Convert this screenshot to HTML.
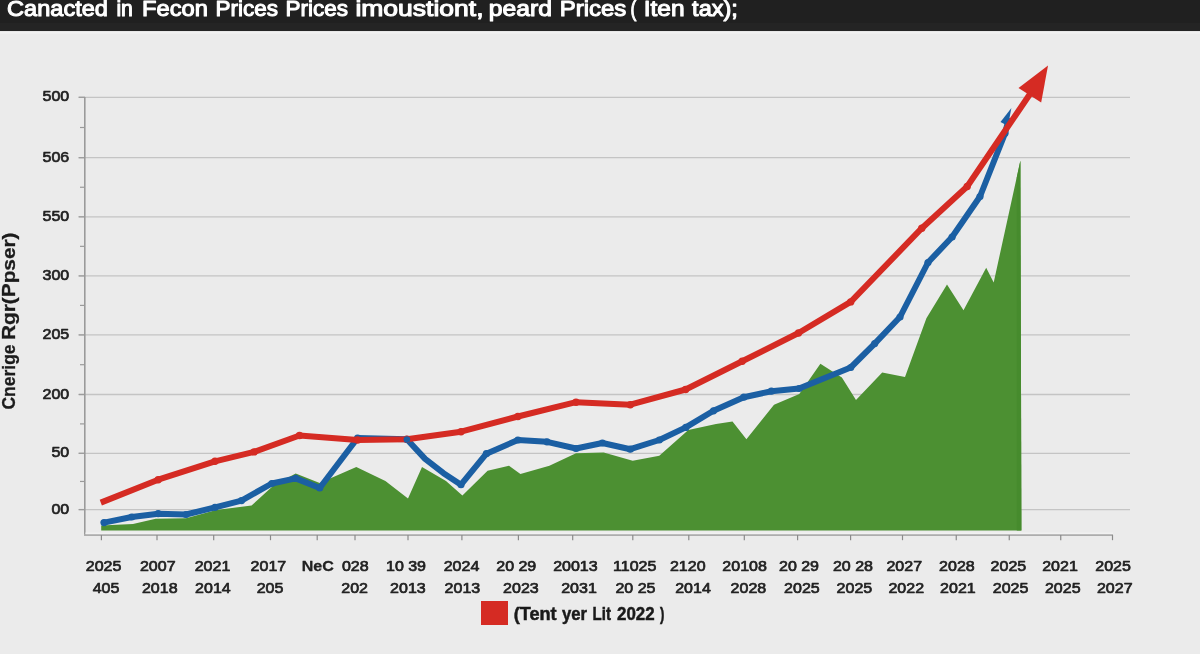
<!DOCTYPE html>
<html><head><meta charset="utf-8"><title>Chart</title>
<style>
html,body{margin:0;padding:0;}
body{width:1200px;height:654px;overflow:hidden;background:#ebebeb;position:relative;font-family:"Liberation Sans",sans-serif;}
#hdr{position:absolute;left:0;top:0;width:1200px;height:31px;background:#232323;overflow:hidden;}
#hdr span{position:absolute;left:7px;top:-12px;color:#fff;font-size:25px;font-weight:bold;white-space:nowrap;line-height:34px;letter-spacing:-0.2px}
</style></head><body>

<svg width="1200" height="654" viewBox="0 0 1200 654" style="position:absolute;left:0;top:0"><rect x="0" y="0" width="1200" height="31.2" fill="#242424"/><rect x="0" y="0" width="1200" height="23" fill="#202020"/><rect x="0" y="31.2" width="1200" height="2.6" fill="#f1f1f1"/><g font-family="'Liberation Sans', sans-serif" font-size="22.6" fill="#fff" stroke="#fff" stroke-width="1.1" stroke-linejoin="round"><text x="7.1000000000000005" y="15.5" textLength="100.8" lengthAdjust="spacingAndGlyphs">Canacted</text><text x="116.4" y="15.5" textLength="16.5" lengthAdjust="spacingAndGlyphs">in</text><text x="142.1" y="15.5" textLength="65.8" lengthAdjust="spacingAndGlyphs">Fecon</text><text x="215.4" y="15.5" textLength="62.5" lengthAdjust="spacingAndGlyphs">Prices</text><text x="285.4" y="15.5" textLength="62.5" lengthAdjust="spacingAndGlyphs">Prices</text><text x="355.4" y="15.5" textLength="128.2" lengthAdjust="spacingAndGlyphs">imoustiont,</text><text x="488.7" y="15.5" textLength="63.2" lengthAdjust="spacingAndGlyphs">peard</text><text x="559.6999999999999" y="15.5" textLength="66.6" lengthAdjust="spacingAndGlyphs">Prices</text><text x="630.4" y="15.5" textLength="5.9" lengthAdjust="spacingAndGlyphs">(</text><text x="643.6999999999999" y="15.5" textLength="40.9" lengthAdjust="spacingAndGlyphs">Iten</text><text x="692.1" y="15.5" textLength="45.8" lengthAdjust="spacingAndGlyphs">tax);</text></g><line x1="79" y1="97.3" x2="1130" y2="97.3" stroke="#c4c4c4" stroke-width="1.3"/><line x1="78.5" y1="97.3" x2="85" y2="97.3" stroke="#9c9c9c" stroke-width="1.3"/><line x1="79" y1="157.7" x2="1130" y2="157.7" stroke="#c4c4c4" stroke-width="1.3"/><line x1="78.5" y1="157.7" x2="85" y2="157.7" stroke="#9c9c9c" stroke-width="1.3"/><line x1="79" y1="216.8" x2="1130" y2="216.8" stroke="#c4c4c4" stroke-width="1.3"/><line x1="78.5" y1="216.8" x2="85" y2="216.8" stroke="#9c9c9c" stroke-width="1.3"/><line x1="79" y1="275.9" x2="1130" y2="275.9" stroke="#c4c4c4" stroke-width="1.3"/><line x1="78.5" y1="275.9" x2="85" y2="275.9" stroke="#9c9c9c" stroke-width="1.3"/><line x1="79" y1="334.9" x2="1130" y2="334.9" stroke="#c4c4c4" stroke-width="1.3"/><line x1="78.5" y1="334.9" x2="85" y2="334.9" stroke="#9c9c9c" stroke-width="1.3"/><line x1="79" y1="394.5" x2="1130" y2="394.5" stroke="#c4c4c4" stroke-width="1.3"/><line x1="78.5" y1="394.5" x2="85" y2="394.5" stroke="#9c9c9c" stroke-width="1.3"/><line x1="79" y1="453.3" x2="1130" y2="453.3" stroke="#c4c4c4" stroke-width="1.3"/><line x1="78.5" y1="453.3" x2="85" y2="453.3" stroke="#9c9c9c" stroke-width="1.3"/><line x1="79" y1="509.6" x2="1130" y2="509.6" stroke="#c4c4c4" stroke-width="1.3"/><line x1="78.5" y1="509.6" x2="85" y2="509.6" stroke="#9c9c9c" stroke-width="1.3"/><line x1="80" y1="127.5" x2="85" y2="127.5" stroke="#9a9a9a" stroke-width="1.2"/><line x1="80" y1="187.25" x2="85" y2="187.25" stroke="#9a9a9a" stroke-width="1.2"/><line x1="80" y1="246.35" x2="85" y2="246.35" stroke="#9a9a9a" stroke-width="1.2"/><line x1="80" y1="305.4" x2="85" y2="305.4" stroke="#9a9a9a" stroke-width="1.2"/><line x1="80" y1="364.7" x2="85" y2="364.7" stroke="#9a9a9a" stroke-width="1.2"/><line x1="80" y1="423.9" x2="85" y2="423.9" stroke="#9a9a9a" stroke-width="1.2"/><line x1="80" y1="481.45000000000005" x2="85" y2="481.45000000000005" stroke="#9a9a9a" stroke-width="1.2"/><line x1="84.8" y1="97" x2="84.8" y2="535.9" stroke="#9a9a9a" stroke-width="1.6"/><line x1="85.5" y1="533.2" x2="1113" y2="533.2" stroke="#f1f1f1" stroke-width="1.6"/><line x1="84" y1="535.1" x2="1113" y2="535.1" stroke="#adadad" stroke-width="1.7"/><line x1="101.4" y1="535.1" x2="101.4" y2="540.2" stroke="#8a8a8a" stroke-width="1.2"/><line x1="157" y1="535.1" x2="157" y2="540.2" stroke="#8a8a8a" stroke-width="1.2"/><line x1="213.7" y1="535.1" x2="213.7" y2="540.2" stroke="#8a8a8a" stroke-width="1.2"/><line x1="270.5" y1="535.1" x2="270.5" y2="540.2" stroke="#8a8a8a" stroke-width="1.2"/><line x1="317.2" y1="535.1" x2="317.2" y2="540.2" stroke="#8a8a8a" stroke-width="1.2"/><line x1="355" y1="535.1" x2="355" y2="540.2" stroke="#8a8a8a" stroke-width="1.2"/><line x1="408" y1="535.1" x2="408" y2="540.2" stroke="#8a8a8a" stroke-width="1.2"/><line x1="461.9" y1="535.1" x2="461.9" y2="540.2" stroke="#8a8a8a" stroke-width="1.2"/><line x1="518.4" y1="535.1" x2="518.4" y2="540.2" stroke="#8a8a8a" stroke-width="1.2"/><line x1="572.7" y1="535.1" x2="572.7" y2="540.2" stroke="#8a8a8a" stroke-width="1.2"/><line x1="632.8" y1="535.1" x2="632.8" y2="540.2" stroke="#8a8a8a" stroke-width="1.2"/><line x1="688.8" y1="535.1" x2="688.8" y2="540.2" stroke="#8a8a8a" stroke-width="1.2"/><line x1="744.3" y1="535.1" x2="744.3" y2="540.2" stroke="#8a8a8a" stroke-width="1.2"/><line x1="797.6" y1="535.1" x2="797.6" y2="540.2" stroke="#8a8a8a" stroke-width="1.2"/><line x1="850.6" y1="535.1" x2="850.6" y2="540.2" stroke="#8a8a8a" stroke-width="1.2"/><line x1="902.5" y1="535.1" x2="902.5" y2="540.2" stroke="#8a8a8a" stroke-width="1.2"/><line x1="956.25" y1="535.1" x2="956.25" y2="540.2" stroke="#8a8a8a" stroke-width="1.2"/><line x1="1009.25" y1="535.1" x2="1009.25" y2="540.2" stroke="#8a8a8a" stroke-width="1.2"/><line x1="1060.75" y1="535.1" x2="1060.75" y2="540.2" stroke="#8a8a8a" stroke-width="1.2"/><line x1="1112.5" y1="535.1" x2="1112.5" y2="540.2" stroke="#8a8a8a" stroke-width="1.2"/><polygon points="101.2,530.5 101.2,525.4 133,523.9 155.7,518.8 186,518.3 216.3,510 251.6,505.4 274.3,484.7 295.7,473.4 319.7,483 356.3,467 385.4,481 408,498.6 422,467 446,481 462.4,495.6 487.6,470.8 509,465.8 520.4,473.9 549.4,465.8 576,453.2 603.7,452.4 632.7,460.7 659.3,455.7 688.3,430 716,424 732.5,421.6 746.4,439.3 774,404.7 799.3,393.9 820.4,363.7 841.9,377.6 856,400 882.2,372.6 905,377 926.4,318.3 947,284.5 963.5,310.2 986.2,267.8 993.7,282.5 1020.4,160.4 1021.4,530.5" fill="#4c9032"/><polygon points="1016.8,177.5 1020.4,160.4 1021.4,530.5 1016.8,530.5" fill="#468b2d"/><polyline points="104,522.6 131.7,517 158.2,513.7 186,514.5 215,507.4 241.5,500.6 271.8,483.5 295.7,478.4 319.7,488 357.6,438 406.9,439.3 425.1,458.9 443.5,473.2 461,484.7 486.4,453.7 517.9,440 547,441.8 576,448.5 602.4,443 630.3,449.2 659.3,440 685.8,427.4 713.5,410.8 743.8,397.2 771.4,391.2 799,388.5 850.7,367.5 874.7,343.6 900,317 928,262.5 952.1,237 980,196.5 1005,133.3 1009,118" fill="none" stroke="#1b5fa3" stroke-width="6" stroke-linejoin="round"/><circle cx="104" cy="522.6" r="3.6" fill="#1b5fa3"/><circle cx="131.7" cy="517" r="3.6" fill="#1b5fa3"/><circle cx="158.2" cy="513.7" r="3.6" fill="#1b5fa3"/><circle cx="186" cy="514.5" r="3.6" fill="#1b5fa3"/><circle cx="215" cy="507.4" r="3.6" fill="#1b5fa3"/><circle cx="241.5" cy="500.6" r="3.6" fill="#1b5fa3"/><circle cx="271.8" cy="483.5" r="3.6" fill="#1b5fa3"/><circle cx="295.7" cy="478.4" r="3.6" fill="#1b5fa3"/><circle cx="319.7" cy="488" r="3.6" fill="#1b5fa3"/><circle cx="357.6" cy="438" r="3.6" fill="#1b5fa3"/><circle cx="406.9" cy="439.3" r="3.6" fill="#1b5fa3"/><circle cx="461" cy="484.7" r="3.6" fill="#1b5fa3"/><circle cx="486.4" cy="453.7" r="3.6" fill="#1b5fa3"/><circle cx="517.9" cy="440" r="3.6" fill="#1b5fa3"/><circle cx="547" cy="441.8" r="3.6" fill="#1b5fa3"/><circle cx="576" cy="448.5" r="3.6" fill="#1b5fa3"/><circle cx="602.4" cy="443" r="3.6" fill="#1b5fa3"/><circle cx="630.3" cy="449.2" r="3.6" fill="#1b5fa3"/><circle cx="659.3" cy="440" r="3.6" fill="#1b5fa3"/><circle cx="685.8" cy="427.4" r="3.6" fill="#1b5fa3"/><circle cx="713.5" cy="410.8" r="3.6" fill="#1b5fa3"/><circle cx="743.8" cy="397.2" r="3.6" fill="#1b5fa3"/><circle cx="771.4" cy="391.2" r="3.6" fill="#1b5fa3"/><circle cx="799" cy="388.5" r="3.6" fill="#1b5fa3"/><circle cx="850.7" cy="367.5" r="3.6" fill="#1b5fa3"/><circle cx="874.7" cy="343.6" r="3.6" fill="#1b5fa3"/><circle cx="900" cy="317" r="3.6" fill="#1b5fa3"/><circle cx="928" cy="262.5" r="3.6" fill="#1b5fa3"/><circle cx="952.1" cy="237" r="3.6" fill="#1b5fa3"/><circle cx="980" cy="196.5" r="3.6" fill="#1b5fa3"/><circle cx="1005" cy="133.3" r="3.6" fill="#1b5fa3"/><polygon points="1011.4,108 1000.5,122 1008,126" fill="#1b5fa3"/><polyline points="100.8,502.6 158.2,479.7 215,461.3 254.1,451.9 299.5,435.5 357.6,440 406.9,439.3 461,431.7 517.9,416.5 576,402.2 630.3,404.7 685.6,389.5 742.2,361.2 798.5,333 850.7,301.9 921.8,228.2 967.2,186.5 1031,92.5" fill="none" stroke="#d52b23" stroke-width="6" stroke-linejoin="round"/><circle cx="158.2" cy="479.7" r="3.7" fill="#d52b23"/><circle cx="215" cy="461.3" r="3.7" fill="#d52b23"/><circle cx="254.1" cy="451.9" r="3.7" fill="#d52b23"/><circle cx="299.5" cy="435.5" r="3.7" fill="#d52b23"/><circle cx="357.6" cy="440" r="3.7" fill="#d52b23"/><circle cx="406.9" cy="439.3" r="3.7" fill="#d52b23"/><circle cx="461" cy="431.7" r="3.7" fill="#d52b23"/><circle cx="517.9" cy="416.5" r="3.7" fill="#d52b23"/><circle cx="576" cy="402.2" r="3.7" fill="#d52b23"/><circle cx="630.3" cy="404.7" r="3.7" fill="#d52b23"/><circle cx="685.6" cy="389.5" r="3.7" fill="#d52b23"/><circle cx="742.2" cy="361.2" r="3.7" fill="#d52b23"/><circle cx="798.5" cy="333" r="3.7" fill="#d52b23"/><circle cx="850.7" cy="301.9" r="3.7" fill="#d52b23"/><circle cx="921.8" cy="228.2" r="3.7" fill="#d52b23"/><circle cx="967.2" cy="186.5" r="3.7" fill="#d52b23"/><circle cx="406.9" cy="439.6" r="3.3" fill="#1b5fa3"/><polygon points="1048,65.6 1018.5,87.9 1041.2,102.5" fill="#d52b23"/><g font-family="'Liberation Sans', sans-serif" font-size="15" fill="#222" stroke="#222" stroke-width="0.7" stroke-linejoin="round"><text transform="translate(69.2,101.4) scale(1.067,1)" text-anchor="end">500</text><text transform="translate(69.2,161.8) scale(1.067,1)" text-anchor="end">506</text><text transform="translate(69.2,220.9) scale(1.067,1)" text-anchor="end">550</text><text transform="translate(69.2,280.0) scale(1.067,1)" text-anchor="end">300</text><text transform="translate(69.2,339.0) scale(1.067,1)" text-anchor="end">205</text><text transform="translate(69.2,398.6) scale(1.067,1)" text-anchor="end">200</text><text transform="translate(69.2,457.4) scale(1.067,1)" text-anchor="end">50</text><text transform="translate(69.2,513.7) scale(1.067,1)" text-anchor="end">00</text><text transform="translate(103.6,571.2) scale(1.067,1)" text-anchor="middle">2025</text><text transform="translate(157.75,571.2) scale(1.067,1)" text-anchor="middle">2007</text><text transform="translate(212.5,571.2) scale(1.067,1)" text-anchor="middle">2021</text><text transform="translate(268.4,571.2) scale(1.067,1)" text-anchor="middle">2017</text><text transform="translate(317.75,571.2) scale(1.067,1)" text-anchor="middle" font-weight="bold" stroke-width="0.3">NeC</text><text transform="translate(355.25,571.2) scale(1.067,1)" text-anchor="middle">028</text><text transform="translate(406,571.2) scale(1.067,1)" text-anchor="middle">10 39</text><text transform="translate(461.5,571.2) scale(1.067,1)" text-anchor="middle">2024</text><text transform="translate(516.25,571.2) scale(1.067,1)" text-anchor="middle">20 29</text><text transform="translate(575.4,571.2) scale(1.067,1)" text-anchor="middle">20013</text><text transform="translate(634.75,571.2) scale(1.067,1)" text-anchor="middle">11025</text><text transform="translate(687.75,571.2) scale(1.067,1)" text-anchor="middle">2120</text><text transform="translate(744.6,571.2) scale(1.067,1)" text-anchor="middle">20108</text><text transform="translate(799,571.2) scale(1.067,1)" text-anchor="middle">20 29</text><text transform="translate(852.9,571.2) scale(1.067,1)" text-anchor="middle">20 28</text><text transform="translate(904.25,571.2) scale(1.067,1)" text-anchor="middle">2027</text><text transform="translate(956.9,571.2) scale(1.067,1)" text-anchor="middle">2028</text><text transform="translate(1008.4,571.2) scale(1.067,1)" text-anchor="middle">2025</text><text transform="translate(1060,571.2) scale(1.067,1)" text-anchor="middle">2021</text><text transform="translate(1113.1,571.2) scale(1.067,1)" text-anchor="middle">2025</text><text transform="translate(106,593.3) scale(1.067,1)" text-anchor="middle">405</text><text transform="translate(159.75,593.3) scale(1.067,1)" text-anchor="middle">2018</text><text transform="translate(212.9,593.3) scale(1.067,1)" text-anchor="middle">2014</text><text transform="translate(270,593.3) scale(1.067,1)" text-anchor="middle">205</text><text transform="translate(354.6,593.3) scale(1.067,1)" text-anchor="middle">202</text><text transform="translate(407.9,593.3) scale(1.067,1)" text-anchor="middle">2013</text><text transform="translate(462.4,593.3) scale(1.067,1)" text-anchor="middle">2013</text><text transform="translate(520.9,593.3) scale(1.067,1)" text-anchor="middle">2023</text><text transform="translate(579,593.3) scale(1.067,1)" text-anchor="middle">2031</text><text transform="translate(635.4,593.3) scale(1.067,1)" text-anchor="middle">20 25</text><text transform="translate(693,593.3) scale(1.067,1)" text-anchor="middle">2014</text><text transform="translate(748.4,593.3) scale(1.067,1)" text-anchor="middle">2028</text><text transform="translate(801.9,593.3) scale(1.067,1)" text-anchor="middle">2025</text><text transform="translate(854.4,593.3) scale(1.067,1)" text-anchor="middle">2025</text><text transform="translate(906.25,593.3) scale(1.067,1)" text-anchor="middle">2022</text><text transform="translate(957.9,593.3) scale(1.067,1)" text-anchor="middle">2021</text><text transform="translate(1010.6,593.3) scale(1.067,1)" text-anchor="middle">2025</text><text transform="translate(1062.75,593.3) scale(1.067,1)" text-anchor="middle">2025</text><text transform="translate(1114.75,593.3) scale(1.067,1)" text-anchor="middle">2027</text></g><g transform="translate(15.3,0) rotate(-90)" font-family="'Liberation Sans', sans-serif" font-size="17.5" font-weight="bold" fill="#1c1c1c" stroke="#1c1c1c" stroke-width="0.3"><text x="-409.5" y="0" textLength="65" lengthAdjust="spacingAndGlyphs">Cnerige</text><text x="-340" y="0" textLength="107.5" lengthAdjust="spacingAndGlyphs">Rgr(Ppser)</text></g><rect x="481" y="601" width="27" height="24" fill="#d52b23"/><g font-family="'Liberation Sans', sans-serif" font-size="18" font-weight="bold" fill="#1a1a1a" stroke="#1a1a1a" stroke-width="0.5"><text x="513.75" y="619.6" textLength="42.9" lengthAdjust="spacingAndGlyphs">(Tent</text><text x="561.9" y="619.6" textLength="25.0" lengthAdjust="spacingAndGlyphs">yer</text><text x="592.5" y="619.6" textLength="18.4" lengthAdjust="spacingAndGlyphs">Lit</text><text x="617" y="619.6" textLength="37.6" lengthAdjust="spacingAndGlyphs">2022</text><text x="659.9" y="619.6" textLength="4.4" lengthAdjust="spacingAndGlyphs">)</text></g></svg>
</body></html>
